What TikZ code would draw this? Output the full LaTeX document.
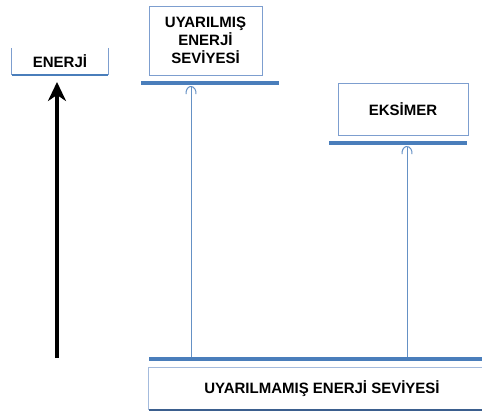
\documentclass[tikz,border=0pt]{standalone}
\usepackage{fontspec}
\setmainfont{Liberation Sans}
\usetikzlibrary{arrows.meta}

\definecolor{levelblue}{HTML}{4A7EBB}
\definecolor{boxblue}{HTML}{7D9ECF}
\definecolor{darkblue}{HTML}{3B5F8E}

\tikzset{
  boxtext/.style={align=center, inner sep=0pt, font=\fontsize{15}{18}\selectfont\bfseries},
  labelbox/.style={boxtext, draw=boxblue, line width=0.9pt, fill=white},
  level/.style={draw=levelblue, line width=4pt},
  jump/.style={draw=levelblue!85, line width=1pt, -{Arc Barb[length=7pt,width=11pt,arc=200]}}
}

\begin{document}
\begin{tikzpicture}[x=1pt,y=-1pt]
    \useasboundingbox (0,0) rectangle (482,412);
    \clip (0,0) rectangle (482,412);
    \begin{scope}

    \node[boxtext, minimum width=96pt, minimum height=27pt] (energy) at (60,61.5) {ENERJİ};
    \draw [boxblue, line width=0.9pt] (energy.north west) -- (energy.south west);
    \draw [boxblue, line width=0.9pt] (energy.north east) -- (energy.south east);
    \draw [levelblue, line width=1.5pt] (energy.south west) -- (energy.south east);

    \node[labelbox, minimum width=113pt, minimum height=69pt] (excited) at (205.5,40.5) {UYARILMIŞ\\ENERJİ\\SEVİYESİ};
    \node[labelbox, minimum width=130pt, minimum height=52pt] (excimer) at (403,109) {EKSİMER};

    \node[boxtext, minimum width=346pt, minimum height=42pt] (ground) at (322,389) {UYARILMAMIŞ ENERJİ SEVİYESİ};
    \draw [boxblue!70, line width=0.9pt] (ground.north east) -- (ground.north west) -- (ground.south west);
    \draw [darkblue, line width=2pt] (ground.south west) -- (ground.south east);

    \coordinate (excited-l) at (141,83);
    \coordinate (excited-r) at (279,83);
    \coordinate (excimer-l) at (329,143);
    \coordinate (excimer-r) at (467,143);
    \coordinate (ground-l) at (149,359);
    \coordinate (ground-r) at (490,359);

    \draw [level] (excited-l) -- (excited-r);
    \draw [level] (excimer-l) -- (excimer-r);
    \draw [level] (ground-l) -- (ground-r);

    \draw [jump] (191,357) -- (191,86);
    \draw [jump] (407,357) -- (407,146);

    \coordinate (axis-low) at (57,358);
    \coordinate (axis-high) at (57,82);
    \draw [line width=4.5pt, -{Stealth[length=19pt,width=18pt,inset=6pt]}] (axis-low) -- (axis-high);

    \end{scope}
\end{tikzpicture}
\end{document}
